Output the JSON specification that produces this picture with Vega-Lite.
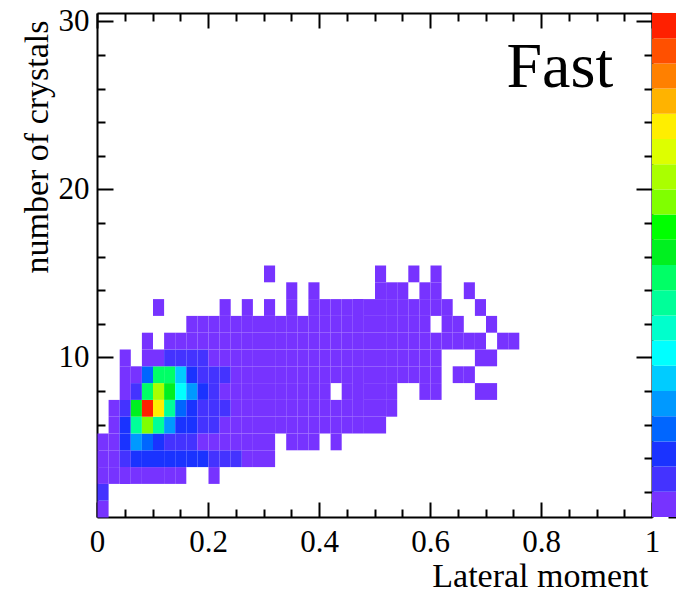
{
  "$schema": "https://vega.github.io/schema/vega-lite/v6.json",
  "width": 555,
  "height": 504,
  "autosize": {"type": "none"},
  "padding": {"left": 97, "top": 13, "right": 24, "bottom": 76},
  "background": "white",
  "config": {
    "view": {"stroke": null},
    "axis": {"labelFont": "Liberation Serif", "titleFont": "Liberation Serif", "grid": false, "domainColor": "black", "tickColor": "black", "labelColor": "black", "titleColor": "black", "titleFontWeight": "normal", "domainWidth": 2, "tickWidth": 2, "zindex": 1}
  },
  "data": {"values": [
    {"x":0.01,"y":1,"c":2},
    {"x":0.01,"y":2,"c":4},
    {"x":0.01,"y":3,"c":1},{"x":0.03,"y":3,"c":2},{"x":0.05,"y":3,"c":2},{"x":0.07,"y":3,"c":2},{"x":0.09,"y":3,"c":2},{"x":0.11,"y":3,"c":1},{"x":0.13,"y":3,"c":2},{"x":0.15,"y":3,"c":1},{"x":0.21,"y":3,"c":1},
    {"x":0.01,"y":4,"c":2},{"x":0.03,"y":4,"c":2},{"x":0.05,"y":4,"c":4},{"x":0.07,"y":4,"c":6},{"x":0.09,"y":4,"c":7},{"x":0.11,"y":4,"c":7},{"x":0.13,"y":4,"c":6},{"x":0.15,"y":4,"c":7},{"x":0.17,"y":4,"c":6},{"x":0.19,"y":4,"c":6},{"x":0.21,"y":4,"c":4},{"x":0.23,"y":4,"c":3},{"x":0.25,"y":4,"c":3},{"x":0.27,"y":4,"c":2},{"x":0.29,"y":4,"c":1},{"x":0.31,"y":4,"c":1},
    {"x":0.01,"y":5,"c":1},{"x":0.03,"y":5,"c":2},{"x":0.05,"y":5,"c":7},{"x":0.07,"y":5,"c":12},{"x":0.09,"y":5,"c":9},{"x":0.11,"y":5,"c":6},{"x":0.13,"y":5,"c":4},{"x":0.15,"y":5,"c":4},{"x":0.17,"y":5,"c":3},{"x":0.19,"y":5,"c":2},{"x":0.21,"y":5,"c":2},{"x":0.23,"y":5,"c":1},{"x":0.25,"y":5,"c":2},{"x":0.27,"y":5,"c":1},{"x":0.29,"y":5,"c":1},{"x":0.31,"y":5,"c":1},{"x":0.35,"y":5,"c":1},{"x":0.37,"y":5,"c":1},{"x":0.39,"y":5,"c":1},{"x":0.43,"y":5,"c":1},
    {"x":0.03,"y":6,"c":2},{"x":0.05,"y":6,"c":7},{"x":0.07,"y":6,"c":22},{"x":0.09,"y":6,"c":32},{"x":0.11,"y":6,"c":22},{"x":0.13,"y":6,"c":12},{"x":0.15,"y":6,"c":7},{"x":0.17,"y":6,"c":6},{"x":0.19,"y":6,"c":4},{"x":0.21,"y":6,"c":3},{"x":0.23,"y":6,"c":2},{"x":0.25,"y":6,"c":2},{"x":0.27,"y":6,"c":2},{"x":0.29,"y":6,"c":1},{"x":0.31,"y":6,"c":2},{"x":0.33,"y":6,"c":1},{"x":0.35,"y":6,"c":1},{"x":0.37,"y":6,"c":2},{"x":0.39,"y":6,"c":1},{"x":0.41,"y":6,"c":1},{"x":0.43,"y":6,"c":1},{"x":0.45,"y":6,"c":1},{"x":0.47,"y":6,"c":1},{"x":0.49,"y":6,"c":1},{"x":0.51,"y":6,"c":1},
    {"x":0.03,"y":7,"c":2},{"x":0.05,"y":7,"c":4},{"x":0.07,"y":7,"c":27},{"x":0.09,"y":7,"c":51},{"x":0.11,"y":7,"c":40},{"x":0.13,"y":7,"c":22},{"x":0.15,"y":7,"c":9},{"x":0.17,"y":7,"c":6},{"x":0.19,"y":7,"c":4},{"x":0.21,"y":7,"c":4},{"x":0.23,"y":7,"c":3},{"x":0.25,"y":7,"c":2},{"x":0.27,"y":7,"c":2},{"x":0.29,"y":7,"c":2},{"x":0.31,"y":7,"c":1},{"x":0.33,"y":7,"c":2},{"x":0.35,"y":7,"c":1},{"x":0.37,"y":7,"c":1},{"x":0.39,"y":7,"c":2},{"x":0.41,"y":7,"c":1},{"x":0.43,"y":7,"c":1},{"x":0.45,"y":7,"c":1},{"x":0.47,"y":7,"c":1},{"x":0.49,"y":7,"c":1},{"x":0.51,"y":7,"c":1},{"x":0.53,"y":7,"c":1},
    {"x":0.05,"y":8,"c":2},{"x":0.07,"y":8,"c":4},{"x":0.09,"y":8,"c":24},{"x":0.11,"y":8,"c":35},{"x":0.13,"y":8,"c":27},{"x":0.15,"y":8,"c":17},{"x":0.17,"y":8,"c":12},{"x":0.19,"y":8,"c":7},{"x":0.21,"y":8,"c":4},{"x":0.23,"y":8,"c":2},{"x":0.25,"y":8,"c":2},{"x":0.27,"y":8,"c":2},{"x":0.29,"y":8,"c":1},{"x":0.31,"y":8,"c":2},{"x":0.33,"y":8,"c":1},{"x":0.35,"y":8,"c":1},{"x":0.37,"y":8,"c":1},{"x":0.39,"y":8,"c":1},{"x":0.41,"y":8,"c":1},{"x":0.45,"y":8,"c":1},{"x":0.47,"y":8,"c":1},{"x":0.49,"y":8,"c":1},{"x":0.51,"y":8,"c":1},{"x":0.53,"y":8,"c":1},{"x":0.59,"y":8,"c":1},{"x":0.61,"y":8,"c":1},{"x":0.69,"y":8,"c":1},{"x":0.71,"y":8,"c":1},
    {"x":0.05,"y":9,"c":1},{"x":0.07,"y":9,"c":2},{"x":0.09,"y":9,"c":9},{"x":0.11,"y":9,"c":24},{"x":0.13,"y":9,"c":25},{"x":0.15,"y":9,"c":14},{"x":0.17,"y":9,"c":7},{"x":0.19,"y":9,"c":4},{"x":0.21,"y":9,"c":3},{"x":0.23,"y":9,"c":3},{"x":0.25,"y":9,"c":2},{"x":0.27,"y":9,"c":2},{"x":0.29,"y":9,"c":1},{"x":0.31,"y":9,"c":2},{"x":0.33,"y":9,"c":1},{"x":0.35,"y":9,"c":1},{"x":0.37,"y":9,"c":1},{"x":0.39,"y":9,"c":1},{"x":0.41,"y":9,"c":1},{"x":0.43,"y":9,"c":1},{"x":0.45,"y":9,"c":1},{"x":0.47,"y":9,"c":1},{"x":0.49,"y":9,"c":1},{"x":0.51,"y":9,"c":1},{"x":0.53,"y":9,"c":1},{"x":0.55,"y":9,"c":1},{"x":0.57,"y":9,"c":1},{"x":0.59,"y":9,"c":1},{"x":0.61,"y":9,"c":1},{"x":0.65,"y":9,"c":1},{"x":0.67,"y":9,"c":1},
    {"x":0.05,"y":10,"c":1},{"x":0.09,"y":10,"c":1},{"x":0.11,"y":10,"c":2},{"x":0.13,"y":10,"c":4},{"x":0.15,"y":10,"c":3},{"x":0.17,"y":10,"c":4},{"x":0.19,"y":10,"c":3},{"x":0.21,"y":10,"c":2},{"x":0.23,"y":10,"c":2},{"x":0.25,"y":10,"c":1},{"x":0.27,"y":10,"c":2},{"x":0.29,"y":10,"c":1},{"x":0.31,"y":10,"c":1},{"x":0.33,"y":10,"c":1},{"x":0.35,"y":10,"c":1},{"x":0.37,"y":10,"c":1},{"x":0.39,"y":10,"c":1},{"x":0.41,"y":10,"c":1},{"x":0.43,"y":10,"c":1},{"x":0.45,"y":10,"c":1},{"x":0.47,"y":10,"c":1},{"x":0.49,"y":10,"c":1},{"x":0.51,"y":10,"c":1},{"x":0.53,"y":10,"c":1},{"x":0.55,"y":10,"c":1},{"x":0.57,"y":10,"c":1},{"x":0.59,"y":10,"c":1},{"x":0.61,"y":10,"c":1},{"x":0.69,"y":10,"c":1},{"x":0.71,"y":10,"c":1},
    {"x":0.09,"y":11,"c":1},{"x":0.13,"y":11,"c":1},{"x":0.15,"y":11,"c":1},{"x":0.17,"y":11,"c":2},{"x":0.19,"y":11,"c":1},{"x":0.21,"y":11,"c":1},{"x":0.23,"y":11,"c":1},{"x":0.25,"y":11,"c":1},{"x":0.27,"y":11,"c":1},{"x":0.29,"y":11,"c":1},{"x":0.31,"y":11,"c":1},{"x":0.33,"y":11,"c":1},{"x":0.35,"y":11,"c":1},{"x":0.37,"y":11,"c":1},{"x":0.39,"y":11,"c":1},{"x":0.41,"y":11,"c":1},{"x":0.43,"y":11,"c":1},{"x":0.45,"y":11,"c":1},{"x":0.47,"y":11,"c":1},{"x":0.49,"y":11,"c":1},{"x":0.51,"y":11,"c":1},{"x":0.53,"y":11,"c":1},{"x":0.55,"y":11,"c":1},{"x":0.57,"y":11,"c":1},{"x":0.59,"y":11,"c":1},{"x":0.61,"y":11,"c":1},{"x":0.63,"y":11,"c":1},{"x":0.65,"y":11,"c":1},{"x":0.67,"y":11,"c":1},{"x":0.69,"y":11,"c":1},{"x":0.73,"y":11,"c":1},{"x":0.75,"y":11,"c":1},
    {"x":0.17,"y":12,"c":1},{"x":0.19,"y":12,"c":1},{"x":0.21,"y":12,"c":1},{"x":0.23,"y":12,"c":1},{"x":0.25,"y":12,"c":1},{"x":0.27,"y":12,"c":1},{"x":0.29,"y":12,"c":1},{"x":0.31,"y":12,"c":1},{"x":0.33,"y":12,"c":1},{"x":0.35,"y":12,"c":1},{"x":0.37,"y":12,"c":1},{"x":0.39,"y":12,"c":1},{"x":0.41,"y":12,"c":1},{"x":0.43,"y":12,"c":1},{"x":0.45,"y":12,"c":1},{"x":0.47,"y":12,"c":1},{"x":0.49,"y":12,"c":1},{"x":0.51,"y":12,"c":1},{"x":0.53,"y":12,"c":1},{"x":0.55,"y":12,"c":1},{"x":0.57,"y":12,"c":1},{"x":0.59,"y":12,"c":1},{"x":0.63,"y":12,"c":1},{"x":0.65,"y":12,"c":1},{"x":0.71,"y":12,"c":1},
    {"x":0.11,"y":13,"c":1},{"x":0.23,"y":13,"c":1},{"x":0.27,"y":13,"c":1},{"x":0.31,"y":13,"c":1},{"x":0.35,"y":13,"c":1},{"x":0.39,"y":13,"c":1},{"x":0.41,"y":13,"c":1},{"x":0.43,"y":13,"c":1},{"x":0.45,"y":13,"c":1},{"x":0.47,"y":13,"c":1},{"x":0.49,"y":13,"c":1},{"x":0.51,"y":13,"c":1},{"x":0.53,"y":13,"c":1},{"x":0.55,"y":13,"c":1},{"x":0.57,"y":13,"c":1},{"x":0.59,"y":13,"c":1},{"x":0.61,"y":13,"c":1},{"x":0.63,"y":13,"c":1},{"x":0.69,"y":13,"c":1},
    {"x":0.35,"y":14,"c":1},{"x":0.39,"y":14,"c":1},{"x":0.51,"y":14,"c":1},{"x":0.53,"y":14,"c":1},{"x":0.55,"y":14,"c":1},{"x":0.59,"y":14,"c":1},{"x":0.61,"y":14,"c":1},{"x":0.67,"y":14,"c":1},
    {"x":0.31,"y":15,"c":1},{"x":0.51,"y":15,"c":1},{"x":0.57,"y":15,"c":1},{"x":0.61,"y":15,"c":1}
  ]},
  "resolve": {"scale": {"y": "independent"}, "axis": {"x": "independent", "y": "independent"}},
  "layer": [
    {
      "mark": {"type": "rect", "binSpacing": 0},
      "encoding": {
        "x": {"field": "x", "type": "quantitative", "bin": {"step": 0.02, "extent": [0, 1], "nice": false},
              "scale": {"domain": [0, 1], "nice": false, "zero": false},
              "axis": {"orient": "bottom", "values": [0, 0.2, 0.4, 0.6, 0.8, 1], "format": "~g", "ticks": false, "labelFontSize": 31, "labelPadding": 10, "labelFlush": false, "labelOverlap": false,
                       "title": "Lateral moment", "titleFontSize": 34, "titleAlign": "right", "titleAnchor": "end", "titleX": 551, "titleY": 69, "titleBaseline": "alphabetic"}},
        "y": {"field": "y", "type": "quantitative", "bin": {"step": 1, "extent": [0.5, 30.5], "nice": false},
              "scale": {"domain": [0.5, 30.5], "nice": false, "zero": false},
              "axis": {"orient": "left", "values": [10, 20, 30], "ticks": false, "labelFontSize": 31, "labelPadding": 8, "labelFlush": false, "labelOverlap": false,
                       "title": "number of crystals", "titleFontSize": 34, "titleAngle": 270, "titleAlign": "right", "titleAnchor": "end", "titleX": -50, "titleY": 7, "titleBaseline": "alphabetic"}},
        "color": {"field": "c", "type": "quantitative", "legend": null,
                  "scale": {"type": "threshold", "domain": [2.6, 5.2, 7.8, 10.4, 13, 15.6, 18.2, 20.8, 23.4, 26, 28.6, 31.2, 33.8, 36.4, 39, 41.6, 44.2, 46.8, 49.4],
                            "range": ["#7733ff", "#4433ff", "#1a33ff", "#0066ff", "#0099ff", "#00ccff", "#00ffff", "#00ffcc", "#00ff99", "#00ff66", "#00f020", "#00ff00", "#80ff00", "#aaff00", "#ddff00", "#ffee00", "#ffb300", "#ff8000", "#ff5000", "#ff2000"]}}
      }
    },
    {
      "data": {"values": [{"x": 0.5, "y": 10}]},
      "mark": {"type": "point", "opacity": 0},
      "encoding": {
        "x": {"field": "x", "type": "quantitative", "scale": {"domain": [0, 1], "nice": false, "zero": false},
              "axis": {"orient": "bottom", "values": [0, 0.2, 0.4, 0.6, 0.8, 1], "tickSize": -15, "labels": false, "domain": false, "title": null}},
        "y": {"field": "y", "type": "quantitative", "scale": {"domain": [0.5, 30.5], "nice": false, "zero": false},
              "axis": {"orient": "left", "values": [10, 20, 30], "tickSize": -16, "labels": false, "domain": false, "title": null}}
      }
    },
    {
      "data": {"values": [{"x": 0.5, "y": 10}]},
      "mark": {"type": "point", "opacity": 0},
      "encoding": {
        "x": {"field": "x", "type": "quantitative", "scale": {"domain": [0, 1], "nice": false, "zero": false},
              "axis": {"orient": "bottom", "values": [0.05, 0.1, 0.15, 0.25, 0.3, 0.35, 0.45, 0.5, 0.55, 0.65, 0.7, 0.75, 0.85, 0.9, 0.95], "tickSize": -8, "labels": false, "domain": false, "title": null}},
        "y": {"field": "y", "type": "quantitative", "scale": {"domain": [0.5, 30.5], "nice": false, "zero": false},
              "axis": {"orient": "left", "values": [2, 4, 6, 8, 12, 14, 16, 18, 22, 24, 26, 28], "tickSize": -8, "labels": false, "domain": false, "title": null}}
      }
    },
    {
      "data": {"values": [{"x": 0.5, "y": 10}]},
      "mark": {"type": "point", "opacity": 0},
      "encoding": {
        "x": {"field": "x", "type": "quantitative", "scale": {"domain": [0, 1], "nice": false, "zero": false},
              "axis": {"orient": "top", "values": [0, 0.2, 0.4, 0.6, 0.8, 1], "tickSize": -15, "labels": false, "domain": true, "title": null}},
        "y": {"field": "y", "type": "quantitative", "scale": {"domain": [0.5, 30.5], "nice": false, "zero": false},
              "axis": {"orient": "right", "values": [10, 20, 30], "tickSize": -16, "labels": false, "domain": true, "title": null}}
      }
    },
    {
      "data": {"values": [{"x": 0.5, "y": 10}]},
      "mark": {"type": "point", "opacity": 0},
      "encoding": {
        "x": {"field": "x", "type": "quantitative", "scale": {"domain": [0, 1], "nice": false, "zero": false},
              "axis": {"orient": "top", "values": [0.05, 0.1, 0.15, 0.25, 0.3, 0.35, 0.45, 0.5, 0.55, 0.65, 0.7, 0.75, 0.85, 0.9, 0.95], "tickSize": -8, "labels": false, "domain": false, "title": null}},
        "y": {"field": "y", "type": "quantitative", "scale": {"domain": [0.5, 30.5], "nice": false, "zero": false},
              "axis": {"orient": "right", "values": [2, 4, 6, 8, 12, 14, 16, 18, 22, 24, 26, 28], "tickSize": -8, "labels": false, "domain": false, "title": null}}
      }
    },
    {
      "data": {"values": [{"label": "Fast"}]},
      "mark": {"type": "text", "font": "Liberation Serif", "fontSize": 64, "align": "center", "baseline": "alphabetic", "color": "black"},
      "encoding": {
        "text": {"field": "label"},
        "x": {"datum": 0.834, "scale": {"domain": [0, 1], "nice": false, "zero": false}, "axis": null},
        "y": {"datum": 26.1, "scale": {"domain": [0.5, 30.5], "nice": false, "zero": false}, "axis": null}
      }
    },
    {
      "data": {"values": [
        {"lo": 0, "hi": 2.6, "c": 1.3}, {"lo": 2.6, "hi": 5.2, "c": 3.9}, {"lo": 5.2, "hi": 7.8, "c": 6.5}, {"lo": 7.8, "hi": 10.4, "c": 9.1},
        {"lo": 10.4, "hi": 13, "c": 11.7}, {"lo": 13, "hi": 15.6, "c": 14.3}, {"lo": 15.6, "hi": 18.2, "c": 16.9}, {"lo": 18.2, "hi": 20.8, "c": 19.5},
        {"lo": 20.8, "hi": 23.4, "c": 22.1}, {"lo": 23.4, "hi": 26, "c": 24.7}, {"lo": 26, "hi": 28.6, "c": 27.3}, {"lo": 28.6, "hi": 31.2, "c": 29.9},
        {"lo": 31.2, "hi": 33.8, "c": 32.5}, {"lo": 33.8, "hi": 36.4, "c": 35.1}, {"lo": 36.4, "hi": 39, "c": 37.7}, {"lo": 39, "hi": 41.6, "c": 40.3},
        {"lo": 41.6, "hi": 44.2, "c": 42.9}, {"lo": 44.2, "hi": 46.8, "c": 45.5}, {"lo": 46.8, "hi": 49.4, "c": 48.1}, {"lo": 49.4, "hi": 52, "c": 50.7}
      ]},
      "mark": {"type": "rect"},
      "encoding": {
        "x": {"datum": 1, "scale": {"domain": [0, 1], "nice": false, "zero": false}, "axis": null},
        "x2": {"datum": 1.06},
        "y": {"field": "lo", "type": "quantitative", "scale": {"domain": [0, 52], "nice": false, "zero": false},
              "axis": {"orient": "right", "offset": 32, "values": [0, 20, 40], "tickSize": -16, "labels": false, "domain": false, "title": null}},
        "y2": {"field": "hi"},
        "color": {"field": "c", "type": "quantitative", "legend": null,
                  "scale": {"type": "threshold", "domain": [2.6, 5.2, 7.8, 10.4, 13, 15.6, 18.2, 20.8, 23.4, 26, 28.6, 31.2, 33.8, 36.4, 39, 41.6, 44.2, 46.8, 49.4],
                            "range": ["#7733ff", "#4433ff", "#1a33ff", "#0066ff", "#0099ff", "#00ccff", "#00ffff", "#00ffcc", "#00ff99", "#00ff66", "#00f020", "#00ff00", "#80ff00", "#aaff00", "#ddff00", "#ffee00", "#ffb300", "#ff8000", "#ff5000", "#ff2000"]}}
      }
    }
  ]
}
